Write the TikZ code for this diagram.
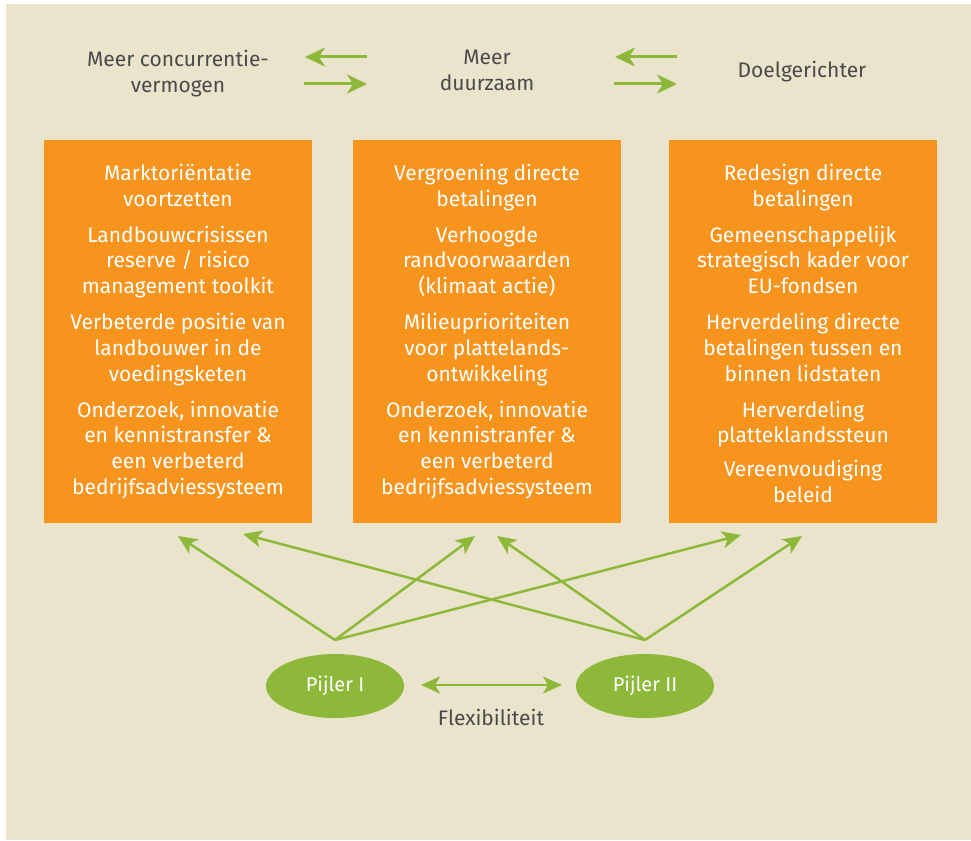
\documentclass[tikz,border=0pt]{standalone}
\usepackage{fontspec}
\setmainfont{Fira Sans}
\usetikzlibrary{arrows.meta,shapes.geometric}
\definecolor{bg}{HTML}{EBE4CD}
\definecolor{org}{HTML}{F7941E}
\definecolor{grn}{HTML}{8DB83A}
\definecolor{txt}{HTML}{4A4A4A}
\tikzset{
 box/.style={fill=org, draw=none, minimum width=268pt, minimum height=383pt, inner sep=0pt, anchor=north west},
 boxtext/.style={text=white, align=center, font=\fontsize{21}{25.7}\selectfont, inner sep=0pt, anchor=north},
 toplabel/.style={text=txt, align=center, font=\fontsize{21}{26}\selectfont, inner sep=0pt},
 bigarrow/.style={grn, line width=3pt, -{Stealth[length=20pt,width=19pt,inset=6pt]}},
 fan/.style={grn, line width=2.5pt, -{Stealth[length=19pt,width=17pt,inset=5pt]}},
 dblarrow/.style={grn, line width=2.5pt, {Stealth[length=19pt,width=17pt,inset=5pt]}-{Stealth[length=19pt,width=17pt,inset=5pt]}},
 pillar/.style={ellipse, fill=grn, minimum width=138pt, minimum height=64pt, inner sep=0pt, text=white, font=\fontsize{20}{22}\selectfont}
}
\begin{document}
\begin{tikzpicture}[x=1pt,y=-1pt]
\fill[white] (0,0) rectangle (971,840);
\fill[bg] (6,4) rectangle (971,840);
\useasboundingbox (0,0) rectangle (971,840);

% top labels
\node[toplabel, anchor=north] (lab1) at (178,50) {Meer concurrentie-\\vermogen};
\node[toplabel, anchor=north] (lab2) at (487,50) {Meer\\duurzaam};
\node[toplabel] (lab3) at (802,72) {Doelgerichter};

\coordinate (a1l) at (305,57); \coordinate (a1r) at (367,57);
\coordinate (a2l) at (304,84); \coordinate (a2r) at (367,84);
\coordinate (a3l) at (615,57); \coordinate (a3r) at (677,57);
\coordinate (a4l) at (614,84); \coordinate (a4r) at (677,84);
\draw[bigarrow] (a1r) -- (a1l);
\draw[bigarrow] (a2l) -- (a2r);
\draw[bigarrow] (a3r) -- (a3l);
\draw[bigarrow] (a4l) -- (a4r);

% boxes
\node[box] (box1) at (44,140) {};
\node[box] (box2) at (353,140) {};
\node[box] (box3) at (669,140) {};

\node[boxtext] (t1) at (178,164) {Marktoriëntatie\\voortzetten\\[10.3pt]
Landbouwcrisissen\\reserve / risico\\management toolkit\\[10.3pt]
Verbeterde positie van\\landbouwer in de\\voedingsketen\\[10.3pt]
Onderzoek, innovatie\\en kennistransfer \&\\een verbeterd\\bedrijfsadviessysteem};
\node[boxtext] (t2) at (487,164) {Vergroening directe\\betalingen\\[10.3pt]
Verhoogde\\randvoorwaarden\\(klimaat actie)\\[10.3pt]
Milieuprioriteiten\\voor plattelands-\\ontwikkeling\\[10.3pt]
Onderzoek, innovatie\\en kennistranfer \&\\een verbeterd\\bedrijfsadviessysteem};
\node[boxtext] (t3) at (803,164) {Redesign directe\\betalingen\\[10.3pt]
Gemeenschappelijk\\strategisch kader voor\\EU-fondsen\\[10.3pt]
Herverdeling directe\\betalingen tussen en\\binnen lidstaten\\[10.3pt]
Herverdeling\\platteklandssteun\\[8.3pt]
Vereenvoudiging\\beleid};

% pillars
\node[pillar] (p1) at (335,686) {Pijler I};
\node[pillar] (p2) at (645,686) {Pijler II};
\node[text=txt, font=\fontsize{21}{24}\selectfont, inner sep=0pt] (flex) at (491,717) {Flexibiliteit};

\coordinate (p1top) at (335,640);
\coordinate (p2top) at (645,640);
\coordinate (e1) at (178,536);
\coordinate (e2) at (243,534);
\coordinate (e3) at (475,536);
\coordinate (e4) at (497,536);
\coordinate (e5) at (741,535);
\coordinate (e6) at (802,536);
\draw[fan] (p1top) -- (e1);
\draw[fan] (p1top) -- (e3);
\draw[fan] (p1top) -- (e5);
\draw[fan] (p2top) -- (e2);
\draw[fan] (p2top) -- (e4);
\draw[fan] (p2top) -- (e6);

\coordinate (fl) at (421,685);
\coordinate (fr) at (562,685);
\draw[dblarrow] (fl) -- (fr);
\end{tikzpicture}
\end{document}
